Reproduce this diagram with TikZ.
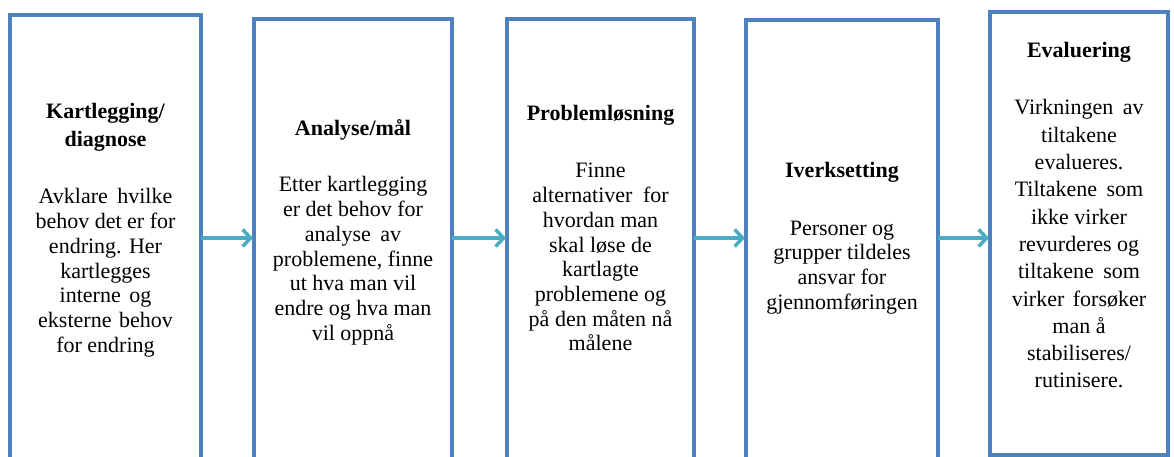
\documentclass[tikz,border=0pt]{standalone}
\usepackage{fontspec}
\setmainfont{LiberationSerif}[Extension=.ttf, UprightFont=*-Regular, BoldFont=*-Bold, ItalicFont=*-Italic, BoldItalicFont=*-BoldItalic]
\usetikzlibrary{arrows.meta}
\definecolor{boxblue}{HTML}{4F81BD}
\definecolor{arrowaqua}{HTML}{4BACC6}
\newcommand\stagetext[1]{\parbox[t]{220pt}{\centering #1}}
\tikzset{
  stage/.style={draw=boxblue, line width=3.5pt, anchor=north west, inner sep=0pt, outer sep=0pt},
  heading/.style={anchor=base, inner sep=0pt, font=\fontsize{22}{28}\selectfont\bfseries},
  body/.style={anchor=base, inner sep=0pt, font=\fontsize{22}{24.7}\selectfont},
  flow/.style={draw=arrowaqua, line width=3.5pt, -{Straight Barb[length=8pt,width=17pt]}, shorten >=1pt},
}
\begin{document}
\begin{tikzpicture}[x=1pt,y=-1pt]
\useasboundingbox (0,0) rectangle (1174,457);
\clip (0,0) rectangle (1174,457);

% stage boxes
\node[stage, minimum width=191pt, minimum height=470pt] (b1) at (10,15) {};
\node[stage, minimum width=198pt, minimum height=470pt] (b2) at (254,19) {};
\node[stage, minimum width=187pt, minimum height=470pt] (b3) at (507,19) {};
\node[stage, minimum width=192pt, minimum height=470pt] (b4) at (746,20) {};
\node[stage, minimum width=178pt, minimum height=443pt] (b5) at (990,12) {};

% arrows between the stages
\coordinate (lvl) at (0,238);
\draw[flow] (b1.east |- lvl) -- (b2.west |- lvl);
\draw[flow] (b2.east |- lvl) -- (b3.west |- lvl);
\draw[flow] (b3.east |- lvl) -- (b4.west |- lvl);
\draw[flow] (b4.east |- lvl) -- (b5.west |- lvl);

% stage 1
\node[heading] (h1) at (105.5,119) {\stagetext{Kartlegging/\\diagnose}};
\node[body] (d1) at (105.5,204) {\stagetext{Avklare\hspace{4pt} hvilke\\behov det er for\\endring. Her\\kartlegges\\interne\hspace{3pt} og\\eksterne\hspace{2pt} behov\\for endring}};

% stage 2
\node[heading] (h2) at (353,136) {\stagetext{Analyse/mål}};
\node[body] (d2) at (353,192) {\stagetext{Etter kartlegging\\er det behov for\\analyse\hspace{4pt} av\\problemene, finne\\ut hva man vil\\endre og hva man\\vil oppnå}};

% stage 3
\node[heading] (h3) at (600.5,121) {\stagetext{Problemløsning}};
\node[body] (d3) at (600.5,178) {\stagetext{Finne\\alternativer\hspace{5pt} for\\hvordan man\\skal løse de\\kartlagte\\problemene og\\på den måten nå\\målene}};

% stage 4
\node[heading] (h4) at (842,178) {\stagetext{Iverksetting}};
\node[body] (d4) at (842,235) {\stagetext{Personer og\\grupper tildeles\\ansvar for\\gjennomføringen}};

% stage 5
\node[heading] (h5) at (1079,58) {\stagetext{Evaluering}};
\node[body, font=\fontsize{22}{27.3}\selectfont] (d5) at (1079,115) {\stagetext{Virkningen\hspace{4pt} av\\tiltakene\\evalueres.\\Tiltakene\hspace{4pt} som\\ikke virker\\revurderes og\\tiltakene\hspace{4pt} som\\virker\hspace{3pt} forsøker\\man å\\stabiliseres/\\rutinisere.}};
\end{tikzpicture}
\end{document}
